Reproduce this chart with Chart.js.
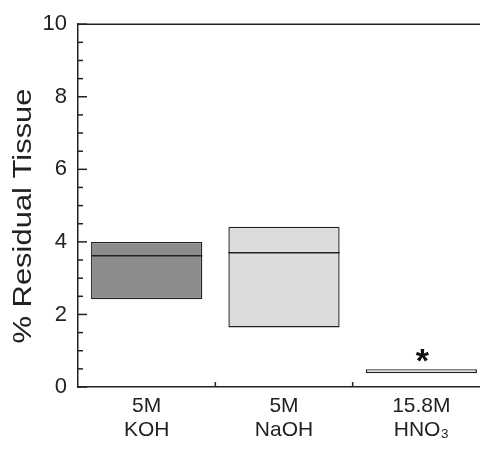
<!DOCTYPE html>
<html>
<head>
<meta charset="utf-8">
<script src="https://cdn.jsdelivr.net/npm/chart.js@4/dist/chart.umd.min.js"></script>
<style>
  html, body { margin: 0; padding: 0; background: #fff; }
  #wrap { width: 480px; height: 449px; overflow: hidden; position: relative; }
  canvas { display: block; }
</style>
</head>
<body>
<div id="wrap"><canvas id="c" width="500" height="449"></canvas></div>
<script>
// ---- data ----
const categories = [['5M', 'KOH'], ['5M', 'NaOH'], ['15.8M', 'HNO\u2083']];
const lows = [2.42, 1.64, 0.38];
const highs = [4.0, 4.42, 0.49];
const medians = [3.62, 3.70, null];
const markers = ['', '', '*'];
const yTickValues = [0, 2, 4, 6, 8, 10];
const yTitle = '% Residual Tissue';

const fillColors = ['#8c8c8c', '#dcdcdc', '#e4e4e4'];
const FONT = '"Liberation Sans", Arial, sans-serif';
const INK = '#222';

const decor = {
  id: 'decor',
  afterDatasetsDraw(chart) {
    const ctx = chart.ctx;
    const xs = chart.scales.x, ys = chart.scales.y;
    const a = chart.chartArea;
    ctx.save();
    ctx.strokeStyle = INK;
    ctx.lineWidth = 1.5;
    // top frame line
    ctx.beginPath();
    ctx.moveTo(a.left, a.top);
    ctx.lineTo(a.right, a.top);
    ctx.stroke();
    // inward y ticks (major + minor)
    ys.ticks.forEach(t => {
      const py = ys.getPixelForValue(t.value);
      const len = yTickValues.includes(t.value) ? 9 : 5;
      ctx.beginPath();
      ctx.moveTo(a.left, py);
      ctx.lineTo(a.left + len, py);
      ctx.stroke();
    });
    // inward x ticks at category boundaries
    for (let i = 0; i < categories.length; i++) {
      const x0 = xs.getPixelForValue(i);
      const x1 = i + 1 < categories.length ? xs.getPixelForValue(i + 1) : x0 + (x0 - xs.getPixelForValue(i - 1));
      const bx = (x0 + x1) / 2;
      ctx.beginPath();
      ctx.moveTo(bx, a.bottom);
      ctx.lineTo(bx, a.bottom - 5);
      ctx.stroke();
    }
    // median lines
    const meta = chart.getDatasetMeta(0);
    ctx.lineWidth = 1.5;
    meta.data.forEach((el, i) => {
      if (medians[i] === null) return;
      const py = ys.getPixelForValue(medians[i]);
      ctx.beginPath();
      ctx.moveTo(el.x - el.width / 2, py);
      ctx.lineTo(el.x + el.width / 2, py);
      ctx.stroke();
    });
    // significance markers
    ctx.fillStyle = '#111';
    ctx.font = 'bold 34px ' + FONT;
    ctx.textAlign = 'center';
    ctx.textBaseline = 'alphabetic';
    meta.data.forEach((el, i) => {
      if (!markers[i]) return;
      const py = ys.getPixelForValue(highs[i]);
      ctx.fillText(markers[i], el.x + 1, py + 3);
    });
    // y axis title (stretched along its length like the original)
    ctx.fillStyle = INK;
    ctx.font = '26px ' + FONT;
    ctx.textBaseline = 'middle';
    ctx.translate(24, 216);
    ctx.rotate(-Math.PI / 2);
    ctx.scale(1.19, 1);
    ctx.fillText(yTitle, 0, 0);
    ctx.restore();
  }
};

new Chart(document.getElementById('c'), {
  type: 'bar',
  data: {
    labels: categories,
    datasets: [{
      data: lows.map((l, i) => [l, highs[i]]),
      backgroundColor: fillColors,
      borderColor: INK,
      borderWidth: 1.4,
      borderSkipped: false,
      categoryPercentage: 1.0,
      barPercentage: 0.81
    }]
  },
  options: {
    responsive: false,
    animation: false,
    devicePixelRatio: 1,
    layout: { padding: { top: 22, right: 10, left: 0, bottom: 0 } },
    plugins: { legend: { display: false }, tooltip: { enabled: false } },
    scales: {
      x: {
        afterFit: s => { s.height = 62; },
        grid: { display: true, drawOnChartArea: false, drawTicks: false, offset: true },
        border: { display: true, color: INK, width: 1.5 },
        ticks: {
          color: INK,
          padding: 7,
          maxRotation: 0,
          autoSkip: false,
          font: { family: FONT, size: 21, lineHeight: 1.14 }
        }
      },
      y: {
        min: 0,
        max: 10,
        afterFit: s => { s.width = 78; },
        grid: { display: true, drawOnChartArea: false, drawTicks: false },
        border: { display: true, color: INK, width: 1.5 },
        ticks: {
          stepSize: 0.5,
          autoSkip: false,
          color: INK,
          padding: 11,
          font: { family: FONT, size: 22 },
          callback: v => (yTickValues.includes(v) ? String(v) : '')
        }
      }
    }
  },
  plugins: [decor]
});
</script>
</body>
</html>
